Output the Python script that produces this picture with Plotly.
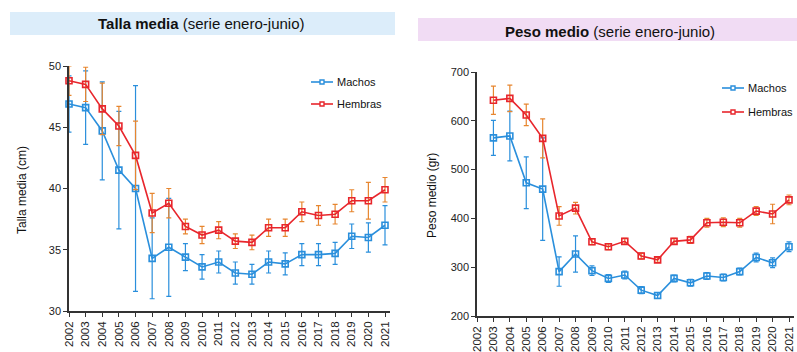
import plotly.graph_objects as go

# Talla media (cm), serie enero-junio
years_talla = list(range(2002, 2022))
talla_machos = [46.9, 46.6, 44.7, 41.5, 40.0, 34.3, 35.2, 34.4, 33.6, 34.0,
                33.1, 33.0, 34.0, 33.85, 34.6, 34.6, 34.7, 36.1, 36.0, 37.0]
talla_machos_err = [2.3, 3.0, 4.0, 4.8, 8.4, 3.3, 4.0, 1.1, 1.0, 0.9,
                    0.9, 0.8, 0.9, 0.9, 0.9, 0.9, 0.9, 1.0, 1.2, 1.6]
talla_hembras = [48.8, 48.5, 46.5, 45.1, 42.7, 38.0, 38.8, 36.9, 36.2, 36.6,
                 35.7, 35.6, 36.8, 36.8, 38.1, 37.8, 37.9, 39.0, 39.0, 39.9]
talla_hembras_err = [1.2, 1.4, 2.1, 1.6, 2.8, 1.6, 1.2, 0.6, 0.7, 0.7,
                     0.6, 0.6, 0.7, 0.7, 0.8, 0.8, 0.8, 0.9, 1.5, 1.0]

# Peso medio (gr), serie enero-junio
years_peso = list(range(2003, 2022))
peso_machos = [565, 569, 473, 460, 291, 327, 293, 277, 284, 253,
               242, 277, 268, 282, 279, 291, 320, 309, 342]
peso_machos_err = [36, 51, 53, 105, 30, 37, 10, 8, 8, 7,
                   6, 7, 7, 7, 7, 7, 9, 10, 10]
peso_hembras = [642, 646, 612, 564, 405, 421, 352, 342, 353, 323,
                315, 353, 356, 391, 392, 391, 415, 409, 438]
peso_hembras_err = [29, 27, 22, 40, 19, 12, 6, 6, 6, 6,
                    5, 6, 7, 9, 9, 9, 9, 20, 10]

W, H = 797, 352
BLUE = "#2a8fdc"
RED = "#e8262c"
ORANGE = "#e7862f"
AXIS = "#333333"
FONT = "Liberation Sans Narrow, Liberation Sans, Arial, sans-serif"


def px(x):
    return x / W


def py(y):
    return 1 - y / H


fig = go.Figure()


def add_series(x, y, err, color, errcolor, name, xa, ya):
    fig.add_trace(go.Scatter(
        x=x, y=y, name=name, mode="lines+markers",
        xaxis=xa, yaxis=ya, showlegend=False, cliponaxis=False,
        line=dict(color=color, width=1.6),
        marker=dict(symbol="square-open", size=6, color=color,
                    line=dict(width=1.6, color=color)),
        error_y=dict(type="data", array=err, visible=True,
                     color=errcolor, thickness=1.2, width=2.5),
    ))


add_series(years_talla, talla_machos, talla_machos_err, BLUE, BLUE, "Machos", "x", "y")
add_series(years_talla, talla_hembras, talla_hembras_err, RED, ORANGE, "Hembras", "x", "y")
add_series(years_peso, peso_machos, peso_machos_err, BLUE, BLUE, "Machos", "x2", "y2")
add_series(years_peso, peso_hembras, peso_hembras_err, RED, ORANGE, "Hembras", "x2", "y2")

step_left = (385 - 69) / 19.0
step_right = (789 - 477) / 19.0

xcommon = dict(
    tickmode="array", tickvals=years_talla, ticktext=[str(v) for v in years_talla],
    tickangle=-90, ticks="outside", ticklen=4, tickcolor=AXIS, tickwidth=1,
    showline=True, linecolor=AXIS, linewidth=1.5, showgrid=False, zeroline=False,
    automargin=False, ticklabeloverflow="allow",
    tickfont=dict(family=FONT, size=11.5, color="#222"),
)
ycommon = dict(
    ticks="outside", ticklen=4, tickcolor=AXIS, tickwidth=1,
    showline=True, linecolor=AXIS, linewidth=1.5, showgrid=False, zeroline=False,
    automargin=False,
    tickfont=dict(family=FONT, size=11, color="#222"),
)

fig.update_layout(
    template="none",
    width=W, height=H, margin=dict(l=0, r=0, t=0, b=0, autoexpand=False),
    paper_bgcolor="white", plot_bgcolor="white", showlegend=False,
    xaxis=dict(domain=[px(69), px(390)], range=[2002, 2002 + (390 - 69) / step_left],
               anchor="y", **xcommon),
    yaxis=dict(domain=[py(311), py(66)], range=[30, 50], tickvals=[30, 35, 40, 45, 50],
               anchor="x", **ycommon),
    xaxis2=dict(domain=[px(477), px(794)], range=[2002, 2002 + (794 - 477) / step_right],
                anchor="y2", **xcommon),
    yaxis2=dict(domain=[py(316), py(72)], range=[200, 700],
                tickvals=[200, 300, 400, 500, 600, 700], anchor="x2", **ycommon),
)

# Title banners
fig.add_shape(type="rect", xref="paper", yref="paper",
              x0=px(10), x1=px(395), y0=py(35), y1=py(12),
              fillcolor="#dcedfa", line=dict(width=0), layer="below")
fig.add_shape(type="rect", xref="paper", yref="paper",
              x0=px(418), x1=1.0, y0=py(41), y1=py(18),
              fillcolor="#f1dcf4", line=dict(width=0), layer="below")


def note(x, y, text, size, angle=0, xanchor="center"):
    fig.add_annotation(xref="paper", yref="paper", x=px(x), y=py(y),
                       text=text, showarrow=False, textangle=angle,
                       xanchor=xanchor, yanchor="middle",
                       font=dict(family=FONT, size=size, color="#111"))


note(201, 24, "<b>Talla media</b> (serie enero-junio)", 15)
note(610, 31, "<b>Peso medio</b> (serie enero-junio)", 15)

# Axis titles
note(22, 190, "Talla media (cm)", 12, angle=-90)
note(432, 196, "Peso medio (gr)", 12, angle=-90)


# Legends drawn as short line samples with square markers
def legend_item(x0, y, color, label):
    fig.add_shape(type="line", xref="paper", yref="paper",
                  x0=px(x0), x1=px(x0 + 22), y0=py(y), y1=py(y),
                  line=dict(color=color, width=1.6))
    fig.add_shape(type="rect", xref="paper", yref="paper",
                  x0=px(x0 + 9), x1=px(x0 + 13), y0=py(y + 2), y1=py(y - 2),
                  line=dict(color=color, width=1.4), fillcolor="white")
    note(x0 + 24, y, label, 11, xanchor="left")


legend_item(311, 82, BLUE, "Machos")
legend_item(311, 104, RED, "Hembras")
legend_item(722, 88, BLUE, "Machos")
legend_item(722, 112, RED, "Hembras")

fig.write_html("out.html")
